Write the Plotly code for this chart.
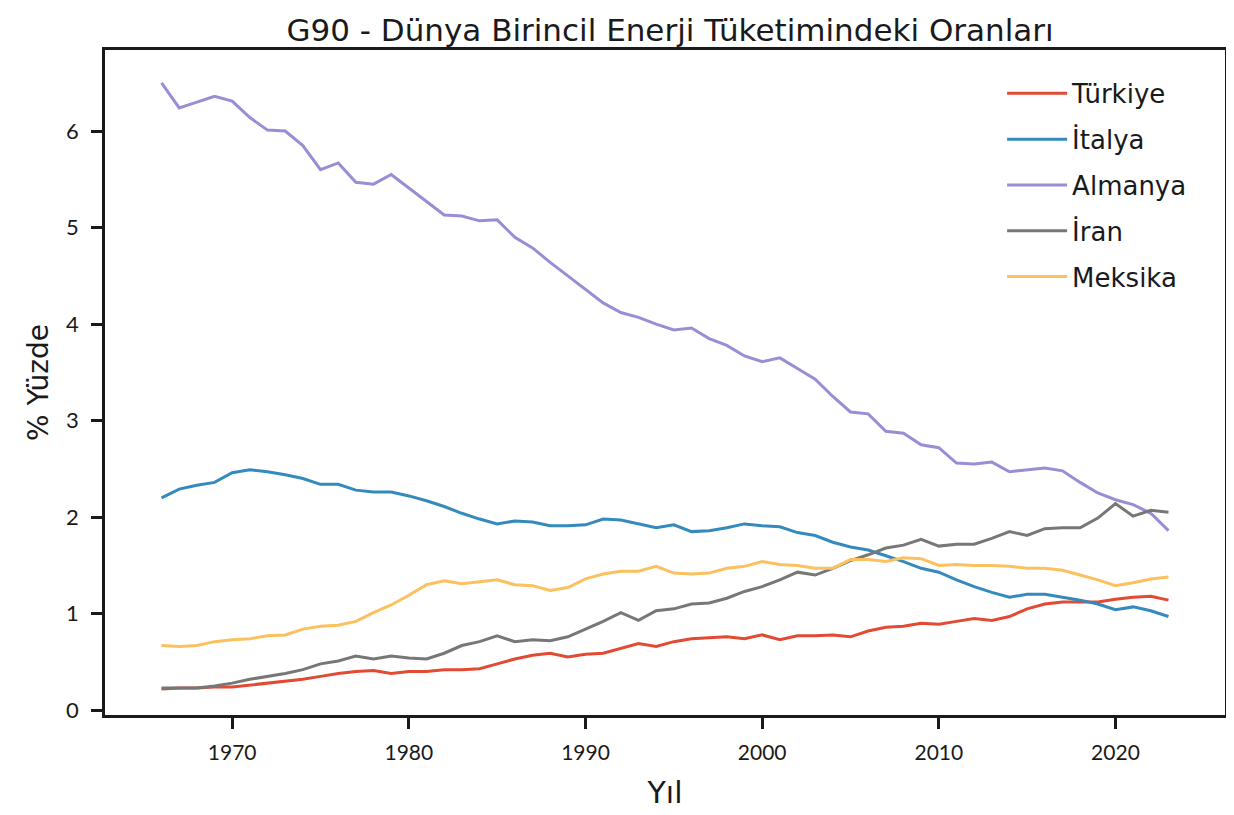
import plotly.graph_objects as go

years = list(range(1966, 2024))

turkiye = [0.22, 0.23, 0.23, 0.24, 0.24, 0.26, 0.28, 0.30, 0.32, 0.35,
           0.38, 0.40, 0.41, 0.38, 0.40, 0.40, 0.42, 0.42, 0.43, 0.48,
           0.53, 0.57, 0.59, 0.55, 0.58, 0.59, 0.64, 0.69, 0.66, 0.71,
           0.74, 0.75, 0.76, 0.74, 0.78, 0.73, 0.77, 0.77, 0.78, 0.76,
           0.82, 0.86, 0.87, 0.90, 0.89, 0.92, 0.95, 0.93, 0.97, 1.05,
           1.10, 1.12, 1.12, 1.12, 1.15, 1.17, 1.18, 1.14]

italya = [2.20, 2.29, 2.33, 2.36, 2.46, 2.49, 2.47, 2.44, 2.40, 2.34,
          2.34, 2.28, 2.26, 2.26, 2.22, 2.17, 2.11, 2.04, 1.98, 1.93,
          1.96, 1.95, 1.91, 1.91, 1.92, 1.98, 1.97, 1.93, 1.89, 1.92,
          1.85, 1.86, 1.89, 1.93, 1.91, 1.90, 1.84, 1.81, 1.74, 1.69,
          1.66, 1.60, 1.54, 1.47, 1.43, 1.35, 1.28, 1.22, 1.17, 1.20,
          1.20, 1.17, 1.14, 1.10, 1.04, 1.07, 1.03, 0.97]

almanya = [6.50, 6.24, 6.30, 6.36, 6.31, 6.14, 6.01, 6.00, 5.85, 5.60,
           5.67, 5.47, 5.45, 5.55, 5.41, 5.27, 5.13, 5.12, 5.07, 5.08,
           4.90, 4.79, 4.64, 4.50, 4.36, 4.22, 4.12, 4.07, 4.00, 3.94,
           3.96, 3.85, 3.78, 3.67, 3.61, 3.65, 3.54, 3.43, 3.25, 3.09,
           3.07, 2.89, 2.87, 2.75, 2.72, 2.56, 2.55, 2.57, 2.47, 2.49,
           2.51, 2.48, 2.36, 2.25, 2.18, 2.13, 2.04, 1.86]

iran = [0.23, 0.23, 0.23, 0.25, 0.28, 0.32, 0.35, 0.38, 0.42, 0.48,
        0.51, 0.56, 0.53, 0.56, 0.54, 0.53, 0.59, 0.67, 0.71, 0.77,
        0.71, 0.73, 0.72, 0.76, 0.84, 0.92, 1.01, 0.93, 1.03, 1.05,
        1.10, 1.11, 1.16, 1.23, 1.28, 1.35, 1.43, 1.40, 1.47, 1.55,
        1.61, 1.68, 1.71, 1.77, 1.70, 1.72, 1.72, 1.78, 1.85, 1.81,
        1.88, 1.89, 1.89, 1.99, 2.14, 2.01, 2.07, 2.05]

meksika = [0.67, 0.66, 0.67, 0.71, 0.73, 0.74, 0.77, 0.78, 0.84, 0.87,
           0.88, 0.92, 1.01, 1.09, 1.19, 1.30, 1.34, 1.31, 1.33, 1.35,
           1.30, 1.29, 1.24, 1.27, 1.36, 1.41, 1.44, 1.44, 1.49, 1.42,
           1.41, 1.42, 1.47, 1.49, 1.54, 1.51, 1.50, 1.47, 1.47, 1.56,
           1.56, 1.54, 1.58, 1.57, 1.50, 1.51, 1.50, 1.50, 1.49, 1.47,
           1.47, 1.45, 1.40, 1.35, 1.29, 1.32, 1.36, 1.38]

series_names = ["Türkiye", "İtalya", "Almanya", "İran", "Meksika"]
series_values = [turkiye, italya, almanya, iran, meksika]
series_colors = ["#E24A33", "#348ABD", "#988ED5", "#777777", "#FBC15E"]

x_ticks = [1970, 1980, 1990, 2000, 2010, 2020]
y_ticks = [0, 1, 2, 3, 4, 5, 6]

FONT = "Lato, 'Open Sans', sans-serif"
WIDE = "'DejaVu Sans', 'Noto Sans', sans-serif"
INK = "#1a1a1a"

fig = go.Figure()
for name, vals, col in zip(series_names, series_values, series_colors):
    fig.add_trace(go.Scatter(x=years, y=vals, mode="lines", name=name,
                             legendgroup=name,
                             line=dict(color=col, width=3)))

fig.update_layout(
    width=1226, height=807,
    margin=dict(l=97, r=6, t=42, b=100),
    paper_bgcolor="white", plot_bgcolor="white",
    font=dict(family=FONT, color=INK),
    title=dict(text="G90 - Dünya Birincil Enerji Tüketimindeki Oranları",
               x=0.54, xanchor="center", y=0.972, yanchor="middle",
               font=dict(size=31, family=WIDE, color=INK)),
    legend=dict(x=0.801, y=0.97, xanchor="left", yanchor="top",
                bgcolor="rgba(255,255,255,0)", borderwidth=0,
                font=dict(size=26, family=WIDE, color=INK),
                itemwidth=60, tracegroupgap=9),
    showlegend=True,
)

fig.update_xaxes(range=[1962.8, 2026.2], tickvals=x_ticks,
                 ticks="outside", ticklen=11, tickwidth=3, tickcolor=INK,
                 ticklabelstandoff=6,
                 showline=True, linecolor=INK, linewidth=2.5, mirror=True,
                 showgrid=False, zeroline=False,
                 tickfont=dict(size=21, family=FONT),
                 title=dict(text="Yıl", font=dict(size=30, family=WIDE), standoff=20))
fig.update_yaxes(range=[-0.05, 6.84], tickvals=y_ticks,
                 ticks="outside", ticklen=11, tickwidth=3, tickcolor=INK,
                 ticklabelstandoff=8,
                 showline=True, linecolor=INK, linewidth=2.5, mirror=True,
                 showgrid=False, zeroline=False,
                 tickfont=dict(size=22, family=FONT),
                 title=dict(text="% Yüzde", font=dict(size=28, family=WIDE), standoff=10))

fig.write_html("out.html")
